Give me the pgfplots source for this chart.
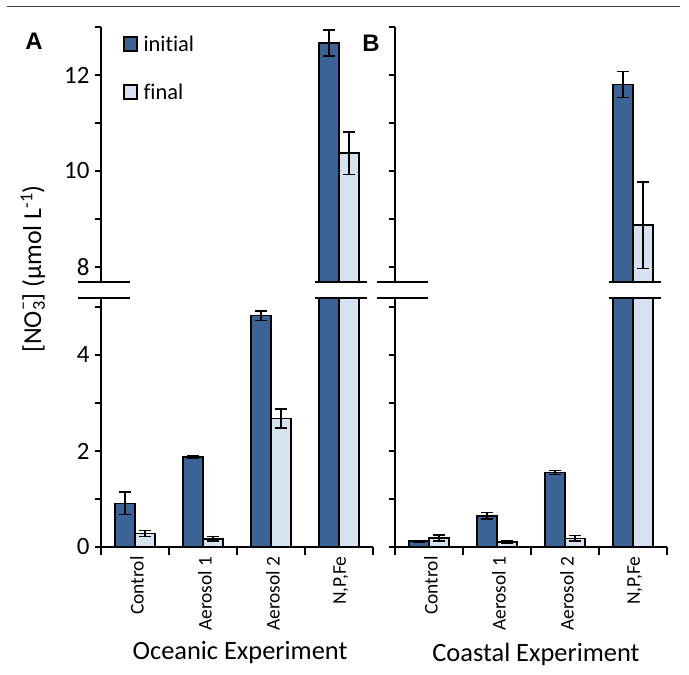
\documentclass[border=0pt]{standalone}
\usepackage{pgfplots}
\pgfplotsset{compat=1.18}
\usepackage{fontspec}
\setmainfont{Carlito}[Ligatures={NoCommon}]
\newfontfamily\labfont{Liberation Sans}
\definecolor{dblue}{RGB}{59,99,150}
\definecolor{lblue}{RGB}{214,226,239}
\pgfplotsset{
  brk/.style={
    scale only axis, width=272bp, anchor=south west,
    xmin=-0.5, xmax=3.5,
    axis line style={line width=1.6bp,-,black},
    tick align=outside, major tick length=6bp, minor tick length=8bp,
    tick style={line width=1.6bp, black},
    ybar=0pt, bar width=20bp,
    /pgf/number format/assume math mode=true,
    yticklabel style={font=\fontsize{25}{29}\selectfont, xshift=-2bp},
    xticklabel style={font=\fontsize{19.5}{23}\selectfont, rotate=90, anchor=east, yshift=-2bp},
    major x tick style={draw=none},
    minor x tick style={line width=1.6bp, black},
    xtick={0,1,2,3},
    minor xtick={-0.5,0.5,1.5,2.5,3.5},
    xticklabels={Control,Aerosol 1,Aerosol 2,{N,P,Fe}},
    error bars/y dir=both, error bars/y explicit,
    error bars/error bar style={line width=1.6bp, black},
    error bars/error mark options={rotate=90, mark size=6bp, line width=1.6bp, black},
  },
  lo/.style={brk, height=249bp, ymin=0, ymax=5.1875,
    axis x line*=bottom, axis y line*=left,
    ytick={0,1,2,3,4,5}},
  up/.style={brk, height=255bp, ymin=7.6875, ymax=13,
    axis x line=none, axis y line*=left,
    ytick={8,9,10,11,12,13}},
  ini/.style={draw=black, line width=1.6bp, fill=dblue},
  fin/.style={draw=black, line width=1.6bp, fill=lblue},
}
\begin{document}
\begin{tikzpicture}
\useasboundingbox (0,0) rectangle (689bp,675bp);
\draw[black!75, line width=1bp] (7bp,668bp) -- (680bp,668bp);
% Panel A lower
\begin{axis}[lo, name=Alo, at={(101bp,128bp)}, yticklabels={0,,2,,4,}]
\addplot[ini] coordinates {(0,0.91) +- (0,0.23) (1,1.88) +- (0,0.02) (2,4.82) +- (0,0.10) (3,12.67) +- (0,0)};
\addplot[fin] coordinates {(0,0.28) +- (0,0.06) (1,0.17) +- (0,0.05) (2,2.68) +- (0,0.20) (3,10.37) +- (0,0)};
\coordinate (a3lo) at (axis cs:3,5.1875);
\end{axis}
% Panel A upper
\begin{axis}[up, name=Aup, at={(101bp,393bp)}, yticklabels={8,,10,,12,},
  legend style={at={(0.08,0.975)}, anchor=north west, draw=none, fill=none,
    font=\fontsize{22.5}{26}\selectfont, row sep=27bp, inner sep=0pt,
    /tikz/every odd column/.append style={column sep=4bp}},
  legend cell align=left,
  legend image code/.code={\draw[#1, line width=1.6bp] (0bp,-7bp) rectangle (13bp,7bp);}]
\addplot[ini] coordinates {(3,12.67) +- (0,0.27)};
\addplot[fin] coordinates {(3,10.37) +- (0,0.44)};
\legend{initial,final}
\coordinate (a3up) at (axis cs:3,7.6875);
\end{axis}
% Panel B lower
\begin{axis}[lo, name=Blo, at={(395bp,128bp)}, yticklabels={}]
\addplot[ini] coordinates {(0,0.12) +- (0,0.01) (1,0.65) +- (0,0.07) (2,1.55) +- (0,0.04) (3,11.8) +- (0,0)};
\addplot[fin] coordinates {(0,0.19) +- (0,0.06) (1,0.10) +- (0,0.02) (2,0.18) +- (0,0.06) (3,8.87) +- (0,0)};
\coordinate (b3lo) at (axis cs:3,5.1875);
\end{axis}
% Panel B upper
\begin{axis}[up, name=Bup, at={(395bp,393bp)}, yticklabels={}]
\addplot[ini] coordinates {(3,11.8) +- (0,0.27)};
\addplot[fin] coordinates {(3,8.87) +- (0,0.90)};
\coordinate (b3up) at (axis cs:3,7.6875);
\end{axis}
% break marks
\begin{scope}[line width=1.6bp, black]
\draw ([xshift=-23bp]Alo.north west) -- ([xshift=29bp]Alo.north west);
\draw ([xshift=-23bp]Aup.south west) -- ([xshift=29bp]Aup.south west);
\draw ([xshift=-18bp]Blo.north west) -- ([xshift=33bp]Blo.north west);
\draw ([xshift=-18bp]Bup.south west) -- ([xshift=33bp]Bup.south west);
\draw ([xshift=-24bp]a3lo) -- ([xshift=28bp]a3lo);
\draw ([xshift=-24bp]a3up) -- ([xshift=28bp]a3up);
\draw ([xshift=-24bp]b3lo) -- ([xshift=28bp]b3lo);
\draw ([xshift=-24bp]b3up) -- ([xshift=28bp]b3up);
\end{scope}
% texts
\node[font=\labfont\bfseries\fontsize{24}{28}\selectfont] at (34bp,634bp) {A};
\node[font=\labfont\bfseries\fontsize{24}{28}\selectfont] at (371bp,632bp) {B};
\node[rotate=90, font=\fontsize{26}{30}\selectfont] at (33bp,406bp) {[NO\rlap{\raisebox{0.5em}{\fontsize{18}{18}\selectfont –}}\textsubscript{3}] (µmol L\textsuperscript{-1})};
\node[font=\fontsize{26.5}{31}\selectfont] at (240bp,22bp) {Oceanic Experiment};
\node[font=\fontsize{26.5}{31}\selectfont] at (536bp,21bp) {Coastal Experiment};
\end{tikzpicture}
\end{document}
